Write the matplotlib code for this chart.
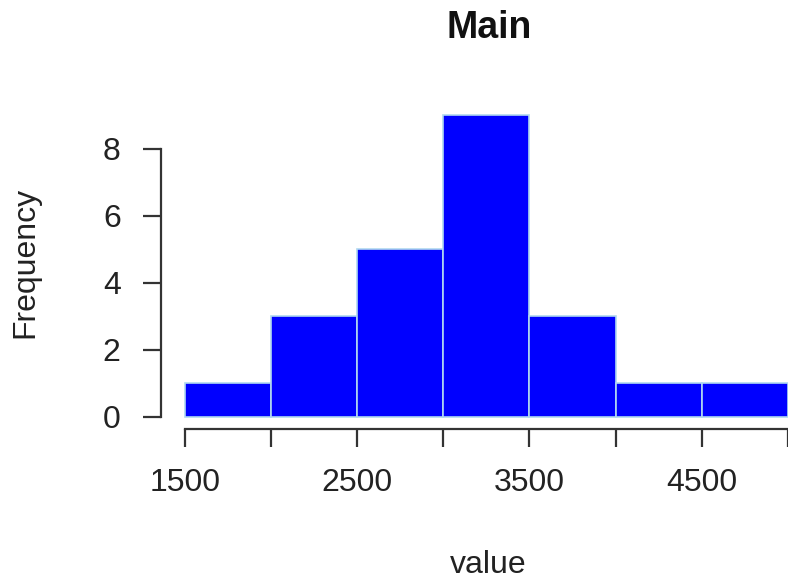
import numpy as np
import matplotlib
matplotlib.use("Agg")
import matplotlib.pyplot as plt

plt.rcParams['font.family'] = ['Liberation Sans', 'DejaVu Sans']

bin_edges = [1500, 2000, 2500, 3000, 3500, 4000, 4500, 5000]
counts = [1, 3, 5, 9, 3, 1, 1]
x_ticks = [1500, 2000, 2500, 3000, 3500, 4000, 4500, 5000]
x_labels = ['1500', '', '2500', '', '3500', '', '4500', '']
y_ticks = [0, 2, 4, 6, 8]

fig = plt.figure(figsize=(7.88, 5.83), dpi=100)
ax = fig.add_axes([0.2043, 0.2642, 0.7957, 0.5643])

widths = np.diff(bin_edges)
ax.bar(bin_edges[:-1], counts, width=widths, align='edge',
       color='#0000ff', edgecolor='#b0d8f0', linewidth=1.2)

ax.set_xlim(1362.0, 4915.0)
ax.set_ylim(-0.358, 9.46)

for s in ['top', 'right']:
    ax.spines[s].set_visible(False)
ax.spines['left'].set_bounds(0, 8)
ax.spines['bottom'].set_bounds(1500, 5000)
for s in ['left', 'bottom']:
    ax.spines[s].set_color('#333333')
    ax.spines[s].set_linewidth(1.6)

ax.set_xticks(x_ticks)
ax.set_xticklabels(x_labels)
ax.set_yticks(y_ticks)
ax.tick_params(axis='both', direction='out', length=13, width=1.6,
               color='#333333', labelsize=23, labelcolor='#222222')
ax.tick_params(axis='x', pad=15)
ax.tick_params(axis='y', pad=16)

ax.set_xlabel('value', fontsize=23, color='#222222')
ax.xaxis.set_label_coords(0.5215, -0.413)
ax.xaxis.label.set_va('center')
ax.set_ylabel('Frequency', fontsize=23, color='#222222')
ax.yaxis.set_label_coords(-0.216, 0.5076)
ax.yaxis.label.set_va('center')

ax.text(0.524, 1.219, 'Main', transform=ax.transAxes, ha='center',
        va='center', fontsize=27, fontweight='bold', color='#111111')

fig.savefig('out.png', dpi=100)
